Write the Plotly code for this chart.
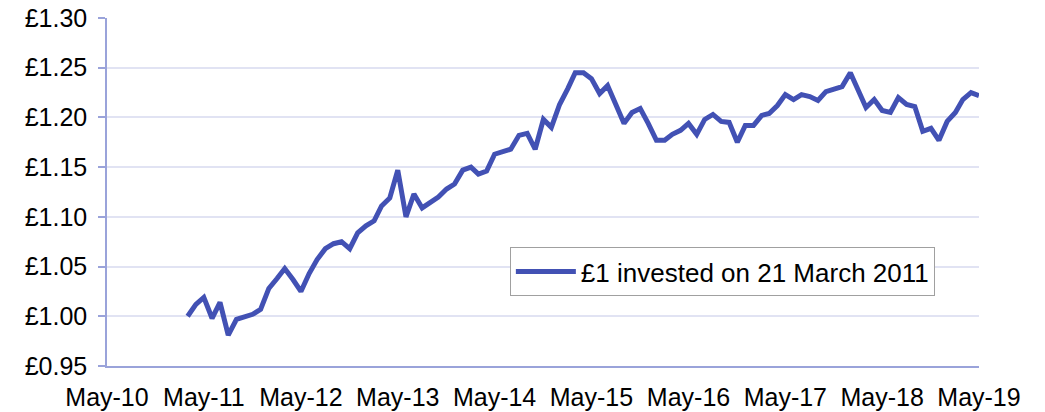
import pandas as pd
import plotly.graph_objects as go

series_name = "£1 invested on 21 March 2011"
start_month = "2011-03-01"
values = [
    1.000, 1.012, 1.019, 0.998, 1.014, 0.981, 0.997, 0.999, 1.002, 1.007,
    1.028, 1.038, 1.048, 1.037, 1.025, 1.043, 1.057, 1.068, 1.073, 1.075,
    1.068, 1.084, 1.091, 1.096, 1.111, 1.119, 1.147, 1.100, 1.123, 1.109,
    1.114, 1.120, 1.128, 1.133, 1.147, 1.150, 1.143, 1.146, 1.163, 1.165,
    1.168, 1.182, 1.184, 1.168, 1.198, 1.190, 1.213, 1.229, 1.245, 1.245,
    1.239, 1.224, 1.232, 1.213, 1.194, 1.205, 1.209, 1.194, 1.177, 1.177,
    1.183, 1.187, 1.194, 1.183, 1.198, 1.203, 1.196, 1.195, 1.175, 1.192,
    1.192, 1.202, 1.204, 1.212, 1.223, 1.218, 1.223, 1.221, 1.217, 1.226,
    1.229, 1.231, 1.245, 1.225, 1.210, 1.218, 1.207, 1.205, 1.220, 1.213,
    1.211, 1.186, 1.189, 1.177, 1.196, 1.205, 1.218, 1.225, 1.222,
]
dates = pd.date_range(start_month, periods=len(values), freq="MS")

x_tick_vals = ["2010-05-01", "2011-05-01", "2012-05-01", "2013-05-01", "2014-05-01",
               "2015-05-01", "2016-05-01", "2017-05-01", "2018-05-01", "2019-05-01"]
x_tick_text = ["May-10", "May-11", "May-12", "May-13", "May-14",
               "May-15", "May-16", "May-17", "May-18", "May-19"]

FONT = "Liberation Sans, Arial, Helvetica, sans-serif"
LINE_COLOR = "#4251B4"
AXIS_COLOR = "#9AA3DA"
GRID_COLOR = "#E1E3F3"

fig = go.Figure()
fig.add_trace(go.Scatter(
    x=dates, y=values, mode="lines", name=series_name,
    line=dict(color=LINE_COLOR, width=5),
))

# page body has an 8px default margin, so the figure is sized to fit inside the window
fig.update_layout(
    width=1037, height=404,
    margin=dict(l=99, r=66, t=10, b=46, autoexpand=False),
    paper_bgcolor="white", plot_bgcolor="white",
    font=dict(family=FONT, size=25, color="black"),
    showlegend=True,
    legend=dict(
        x=0.462, y=0.342, xanchor="left", yanchor="top",
        bgcolor="white", bordercolor="#A0A0A0", borderwidth=1,
        itemwidth=60,
        font=dict(family=FONT, size=26, color="black"),
    ),
)
fig.update_xaxes(
    type="date", automargin=False,
    range=[x_tick_vals[0], x_tick_vals[-1]],
    tickmode="array", tickvals=x_tick_vals, ticktext=x_tick_text,
    showgrid=False, zeroline=False,
    showline=True, linecolor=AXIS_COLOR, linewidth=1.5,
    ticks="", ticklabelstandoff=8, ticklabeloverflow="allow",
)
fig.update_yaxes(
    automargin=False,
    range=[0.95, 1.30], dtick=0.05, tick0=0.95,
    tickprefix="£", tickformat=".2f",
    showgrid=True, gridcolor=GRID_COLOR, gridwidth=1.5,
    zeroline=False,
    showline=True, linecolor=AXIS_COLOR, linewidth=1.5,
    ticks="outside", ticklen=7, tickcolor=AXIS_COLOR, tickwidth=1.5,
    ticklabelstandoff=6, ticklabeloverflow="allow",
)

fig.write_html("out.html")
